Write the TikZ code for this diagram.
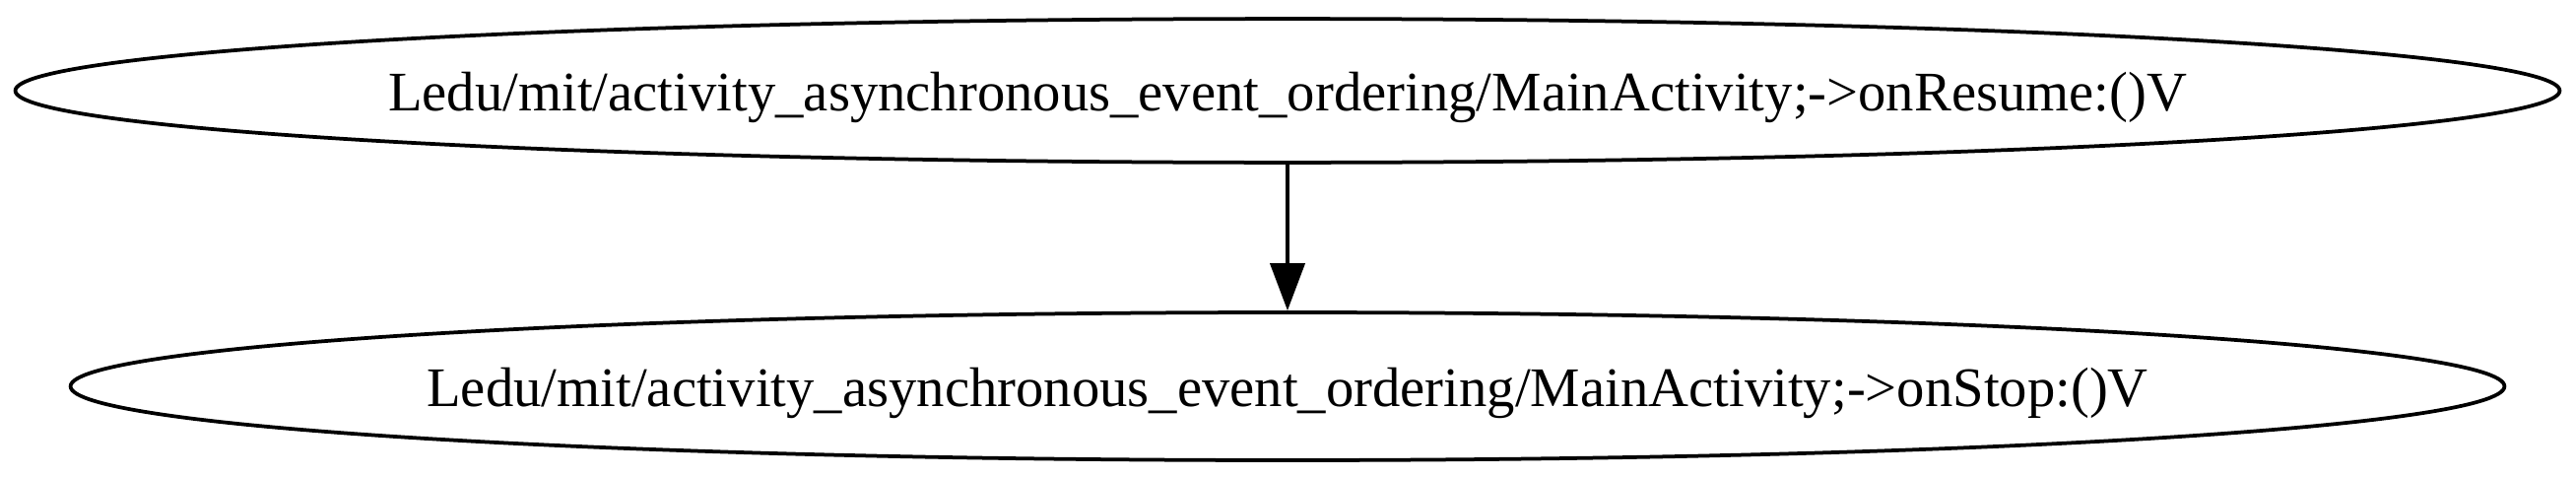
\documentclass[tikz,border=0pt]{standalone}
\usepackage{fontspec}
\setmainfont{Liberation Serif}
\usetikzlibrary{shapes.geometric,arrows.meta}
\begin{document}
\begin{tikzpicture}[x=0.24pt,y=-0.24pt,
  nodeell/.style={draw,ellipse,line width=0.9pt,inner sep=0pt},
  lbl/.style={font=\fontsize{13.6pt}{16pt}\selectfont,inner sep=0pt,anchor=base},
  edge/.style={line width=0.9pt,-{Triangle[length=11.5pt,width=8.4pt]}}]
\useasboundingbox (0,0) rectangle (2615,483);
\node[nodeell,minimum width=619.9pt,minimum height=35.0pt] (a) at (1307,92) {};
\node[lbl] (ta) at (1307,112) {Ledu/mit/activity\_asynchronous\_event\_ordering/MainActivity;->onResume:()V};
\node[nodeell,minimum width=593.0pt,minimum height=36.0pt] (b) at (1307,392) {};
\node[lbl] (tb) at (1307,412) {Ledu/mit/activity\_asynchronous\_event\_ordering/MainActivity;->onStop:()V};
\draw[edge] (a.south) -- (b.north);
\end{tikzpicture}
\end{document}
